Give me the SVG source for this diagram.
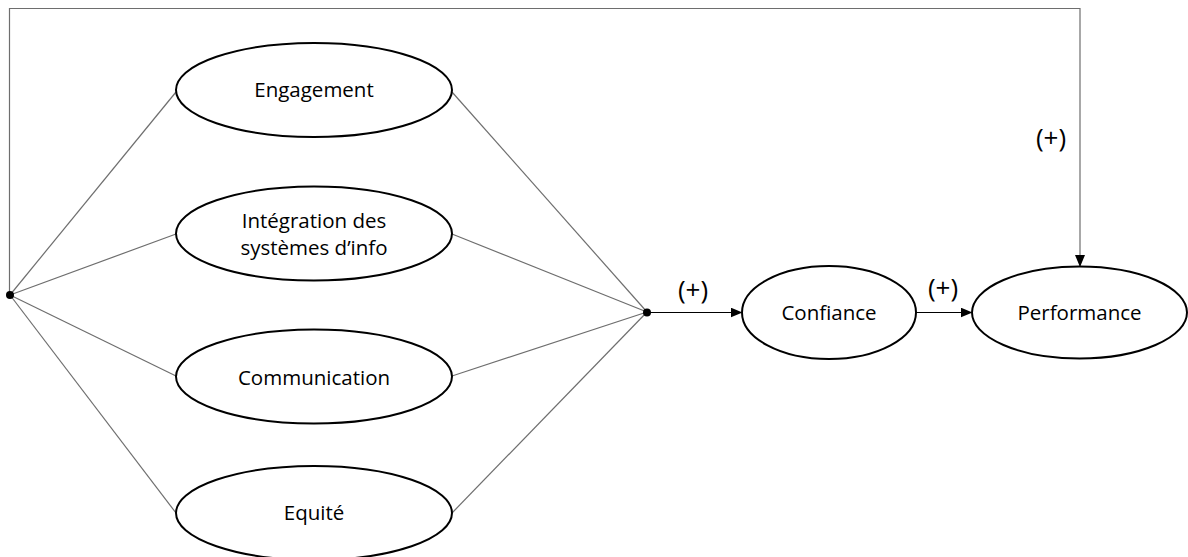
<svg xmlns="http://www.w3.org/2000/svg" width="1188" height="557" viewBox="0 0 1188 557">
<style>
.node ellipse{fill:#fff;stroke:#000;stroke-width:2}
.lbl{font-family:"Open Sans","Liberation Sans",sans-serif;font-size:20.5px;fill:#000;text-anchor:middle}
.plus{font-family:"Open Sans","Liberation Sans",sans-serif;font-size:26px;fill:#000;text-anchor:middle}
.thin{stroke:#6e6e6e;stroke-width:1.2;fill:none}
.arr{stroke:#000;stroke-width:1.2;fill:none}
</style>
<defs>
<marker id="ah" markerWidth="12" markerHeight="10" refX="11" refY="5" orient="auto" markerUnits="userSpaceOnUse">
<path d="M0,0 L12,5 L0,10 Z" fill="#000"/>
</marker>
</defs>
<rect width="1188" height="557" fill="#fff"/>
<g id="connectors">
<line class="thin" x1="10" y1="295" x2="176" y2="92"/>
<line class="thin" x1="10" y1="295" x2="176" y2="234"/>
<line class="thin" x1="10" y1="295" x2="176" y2="376"/>
<line class="thin" x1="10" y1="295" x2="176" y2="513"/>
<line class="thin" x1="452" y1="92" x2="647" y2="312"/>
<line class="thin" x1="452" y1="234" x2="647" y2="312"/>
<line class="thin" x1="452" y1="376" x2="647" y2="312"/>
<line class="thin" x1="452" y1="513" x2="647" y2="312"/>
<polyline class="thin" points="9.5,295 9.5,8.5 1080,8.5 1080,266" marker-end="url(#ah)"/>
<line class="arr" x1="647" y1="312.5" x2="741.5" y2="312.5" marker-end="url(#ah)"/>
<line class="arr" x1="916" y1="312.5" x2="971.5" y2="312.5" marker-end="url(#ah)"/>
<circle cx="10" cy="295" r="4" fill="#000"/>
<circle cx="647" cy="312.5" r="4" fill="#000"/>
<text class="plus" x="693" y="299">(+)</text>
<text class="plus" x="943" y="297">(+)</text>
<text class="plus" x="1051" y="147">(+)</text>
</g>
<g id="engagement" class="node">
<ellipse cx="314" cy="90" rx="138" ry="47"/>
<text class="lbl" x="314" y="97">Engagement</text>
</g>
<g id="integration" class="node">
<ellipse cx="314" cy="233.5" rx="138" ry="47"/>
<text class="lbl" x="314" y="228">Intégration des</text>
<text class="lbl" x="314" y="255">systèmes d’info</text>
</g>
<g id="communication" class="node">
<ellipse cx="314" cy="376.5" rx="138" ry="47"/>
<text class="lbl" x="314" y="385">Communication</text>
</g>
<g id="equite" class="node">
<ellipse cx="314" cy="513" rx="138" ry="47"/>
<text class="lbl" x="314" y="520">Equité</text>
</g>
<g id="confiance" class="node">
<ellipse cx="829" cy="312.5" rx="87" ry="46.5"/>
<text class="lbl" x="829" y="320">Confiance</text>
</g>
<g id="performance" class="node">
<ellipse cx="1079.5" cy="312.5" rx="107.5" ry="46"/>
<text class="lbl" x="1079.5" y="320">Performance</text>
</g>
</svg>
